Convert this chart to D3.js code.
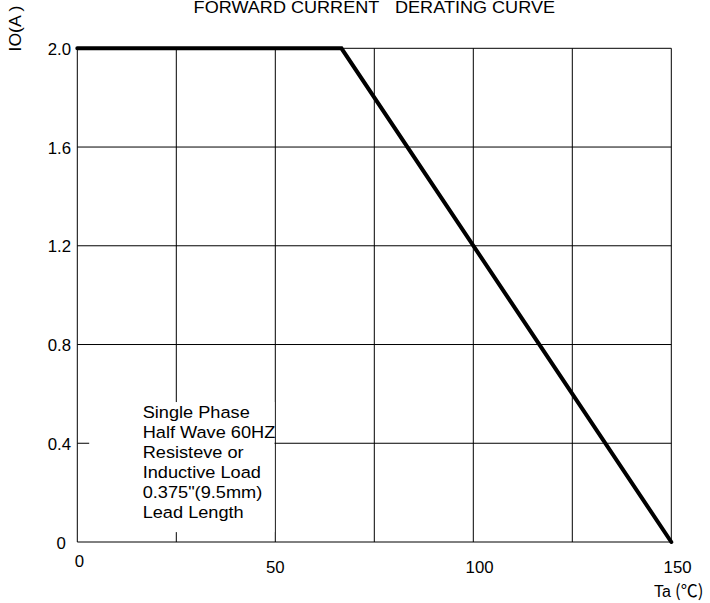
<!DOCTYPE html>
<html>
<head>
<meta charset="utf-8">
<script src="https://cdn.jsdelivr.net/npm/d3@7"></script>
<style>
  html, body { margin: 0; padding: 0; background: #fff; }
  svg { display: block; font-family: "Liberation Sans", Arial, sans-serif; }
</style>
</head>
<body>
<div id="chart"></div>
<script>
// ---- data ----
const titleParts = ["FORWARD CURRENT", "DERATING CURVE"];
const yTitle = "IO(A )";
const xTitleParts = ["Ta", "(℃)"];
const xGridTicks = [0, 25, 50, 75, 100, 125, 150];
const xLabelTicks = [0, 50, 100, 150];
const yTicks = [0, 0.4, 0.8, 1.2, 1.6, 2.0];
const temperature = [0, 66.7, 150];
const current = [2.0, 2.0, 0];
const noteLines = ["Single Phase", "Half Wave 60HZ", "Resisteve or", "Inductive Load", "0.375\"(9.5mm)", "Lead Length"];

// ---- layout ----
const width = 710;
const height = 603;
const margin = { top: 48.3, right: 38.7, bottom: 61, left: 77.3 };

const x = d3.scaleLinear().domain([0, 150]).range([margin.left, width - margin.right]);
const y = d3.scaleLinear().domain([0, 2]).range([height - margin.bottom, margin.top]);

const plotW = x(150) - x(0);
const plotH = y(0) - y(2);

// the source text is slightly wider than plain Arial, so stretch it a bit
const stretch = (sx) => `scale(${sx},1)`;

const svg = d3
  .select("#chart")
  .append("svg")
  .attr("width", width)
  .attr("height", height)
  .attr("viewBox", [0, 0, width, height]);

// vertical grid (also the left / right frame)
svg
  .append("g")
  .attr("transform", `translate(0,${y(0)})`)
  .call(d3.axisBottom(x).tickValues(xGridTicks).tickSize(-plotH).tickFormat("").offset(0))
  .call((g) => g.select(".domain").remove())
  .call((g) => g.selectAll(".tick line").attr("stroke", "#000").attr("stroke-width", 1));

// horizontal grid (also the top / bottom frame) with y labels
svg
  .append("g")
  .attr("transform", `translate(${x(0)},0)`)
  .call(
    d3
      .axisLeft(y)
      .tickValues(yTicks)
      .tickSize(-plotW)
      .tickPadding(6)
      .tickFormat((d) => (d === 0 ? "0" : d3.format(".1f")(d)))
      .offset(0)
  )
  .call((g) => g.select(".domain").remove())
  .call((g) => g.selectAll(".tick line").attr("stroke", "#000").attr("stroke-width", 1))
  .call((g) =>
    g
      .selectAll(".tick text")
      .attr("fill", "#000")
      .attr("font-size", 16)
      .attr("font-family", null)
      .attr("dy", 6.5)
      .attr("dx", (d) => (d === 0 ? -5 : 0))
      .attr("transform", stretch(1.05))
  );

// x labels
svg
  .append("g")
  .attr("transform", `translate(0,${y(0)})`)
  .call(d3.axisBottom(x).tickValues(xLabelTicks).tickSize(0).offset(0))
  .call((g) => g.select(".domain").remove())
  .call((g) =>
    g
      .selectAll(".tick text")
      .attr("fill", "#000")
      .attr("font-size", 16)
      .attr("font-family", null)
      .attr("dy", 0)
      .attr("y", (d) => (d === 0 ? 25.3 : 31.3))
      .attr("dx", (d) => (d === 0 ? 2 : d >= 100 ? 6 : 0))
      .attr("transform", stretch(1.05))
  );

// white backing behind the note (hides the grid there)
svg
  .append("rect")
  .attr("x", x(3))
  .attr("y", y(0.567))
  .attr("width", x(49.8) - x(3))
  .attr("height", y(0.04) - y(0.567))
  .attr("fill", "#fff");

// note text
svg
  .append("g")
  .attr("transform", `translate(${x(16.5)},${y(0.503)}) ${stretch(1.07)}`)
  .attr("font-size", 17)
  .selectAll("text")
  .data(noteLines)
  .join("text")
  .attr("x", 0)
  .attr("y", (_, i) => i * 20.1)
  .attr("fill", "#000")
  .text((d) => d);

// derating curve
const line = d3
  .line()
  .x((d) => x(d[0]))
  .y((d) => y(d[1]));

svg
  .append("path")
  .datum(temperature.map((t, i) => [t, current[i]]))
  .attr("d", line)
  .attr("fill", "none")
  .attr("stroke", "#000")
  .attr("stroke-width", 4)
  .attr("stroke-linecap", "round")
  .attr("stroke-linejoin", "miter");

// title
const title = svg
  .append("text")
  .attr("transform", `translate(${(x(0) + x(150)) / 2},13.3) ${stretch(1.13)}`)
  .attr("text-anchor", "middle")
  .attr("font-size", 16)
  .attr("fill", "#000");
title.append("tspan").text(titleParts[0]);
title.append("tspan").attr("dx", 13.9).text(titleParts[1]);

// y axis title
svg
  .append("text")
  .attr("transform", `translate(20.5,28.5) rotate(-90) ${stretch(1.1)}`)
  .attr("text-anchor", "middle")
  .attr("font-size", 16)
  .attr("fill", "#000")
  .style("white-space", "pre")
  .text(yTitle);

// x axis title
const xTitle = svg
  .append("text")
  .attr("x", 654)
  .attr("y", 597)
  .attr("font-size", 16)
  .attr("fill", "#000");
xTitle.append("tspan").text(xTitleParts[0]);
xTitle
  .append("tspan")
  .attr("dx", 4)
  .attr("font-size", 17)
  .attr("font-family", "'Noto Sans CJK SC', sans-serif")
  .text(xTitleParts[1]);
</script>
</body>
</html>
